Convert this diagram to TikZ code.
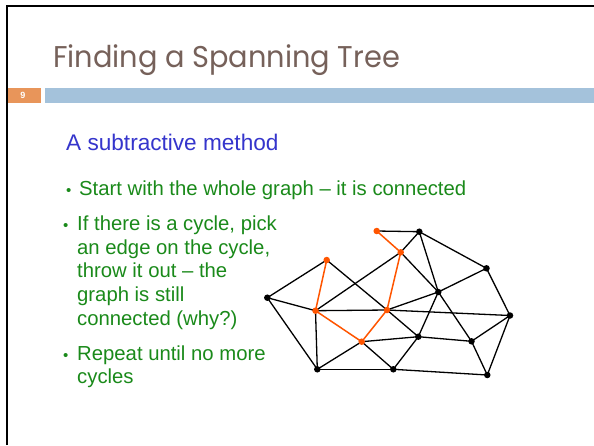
\documentclass[tikz,border=0pt]{standalone}
\usepackage{fontspec}
\setmainfont{Liberation Sans}
\newfontfamily\titlefont{Poppins}
\definecolor{titlecol}{HTML}{76615A}
\definecolor{barblue}{HTML}{A4C2DB}
\definecolor{barorange}{HTML}{E8955A}
\definecolor{subblue}{HTML}{3535CC}
\definecolor{txtgreen}{HTML}{1A8A1A}
\definecolor{treeorange}{HTML}{FF5500}
\tikzset{
  vtx/.style={circle, fill=black, inner sep=0pt, minimum size=6.5pt},
  ovtx/.style={circle, fill=treeorange, inner sep=0pt, minimum size=6.5pt},
  edge/.style={draw=black, line width=1.3pt},
  oedge/.style={draw=treeorange, line width=1.5pt},
  bodytext/.style={anchor=base west, inner sep=0pt, text=txtgreen, font=\fontsize{20.3}{24}\selectfont},
  bul/.style={anchor=base west, inner sep=0pt, text=txtgreen, font=\fontsize{15}{15}\selectfont},
}
\begin{document}
\begin{tikzpicture}[x=1pt, y=-1pt]
\useasboundingbox (0,0) rectangle (594,445);
\fill[white] (0,0) rectangle (594,445);
% frame
\draw[line width=2pt] (6.5,445) -- (6.5,5.5) -- (594,5.5);
% title
\node[anchor=base west, inner sep=0pt, text=titlecol, font=\titlefont\fontsize{30}{30}\selectfont] (title) at (53,67) {\scalebox{0.96}[1]{Finding a Spanning Tree}};
% bar
\fill[barorange] (7.5,87.5) rectangle (41,102.5);
\fill[barblue] (45,87.5) rectangle (594,102.5);
\node[text=white, font=\bfseries\fontsize{9}{9}\selectfont, inner sep=0pt] (num) at (23,95) {9};
% subtitle
\node[anchor=base west, inner sep=0pt, text=subblue, font=\fontsize{22.6}{22.6}\selectfont] (sub) at (66,150) {A subtractive method};
% bullets
\node[bul] (b1) at (66,195) {\textbullet};
\node[bodytext] (t1) at (79,195) {Start with the whole graph – it is connected};
\node[bul] (b2) at (63,230) {\textbullet};
\node[bodytext] (t2a) at (77,230) {If there is a cycle, pick};
\node[bodytext] (t2b) at (77,254) {an edge on the cycle,};
\node[bodytext] (t2c) at (77,277.5) {throw it out – the};
\node[bodytext] (t2d) at (77,301.5) {graph is still};
\node[bodytext] (t2e) at (77,325.5) {connected (why?)};
\node[bul] (b3) at (63,360) {\textbullet};
\node[bodytext] (t3a) at (77,360) {Repeat until no more};
\node[bodytext] (t3b) at (77,383.5) {cycles};
% graph nodes
\coordinate (A) at (376.7,231);
\coordinate (B) at (419.3,231.7);
\coordinate (C) at (400.7,252.3);
\coordinate (D) at (326.7,260);
\coordinate (E) at (486.5,268.3);
\coordinate (F) at (438.3,292);
\coordinate (G) at (267.3,297.7);
\coordinate (H) at (315.5,310.7);
\coordinate (I) at (387,310);
\coordinate (J) at (510,315.5);
\coordinate (K) at (418.3,336.7);
\coordinate (L) at (471.5,341.3);
\coordinate (M) at (361.7,341.7);
\coordinate (N) at (317.3,369.3);
\coordinate (O) at (393.3,369.3);
\coordinate (P) at (487.3,375);
% black edges
\foreach \u/\v in {A/B,B/C,B/E,B/F,C/H,C/F,D/G,D/I,G/H,G/N,H/I,H/N,I/F,I/J,I/K,F/E,F/K,F/L,E/J,J/L,J/P,K/L,K/M,K/O,L/P,M/N,M/O,N/O,O/P}
  \draw[edge] (\u) -- (\v);
% orange edges
\foreach \u/\v in {A/C,C/I,I/M,M/H,H/D}
  \draw[oedge] (\u) -- (\v);
% vertices
\foreach \n in {B,E,F,G,J,K,L,N,O,P}
  \node[vtx] (v\n) at (\n) {};
\foreach \n in {A,C,D,H,I,M}
  \node[ovtx] (v\n) at (\n) {};
\end{tikzpicture}
\end{document}
